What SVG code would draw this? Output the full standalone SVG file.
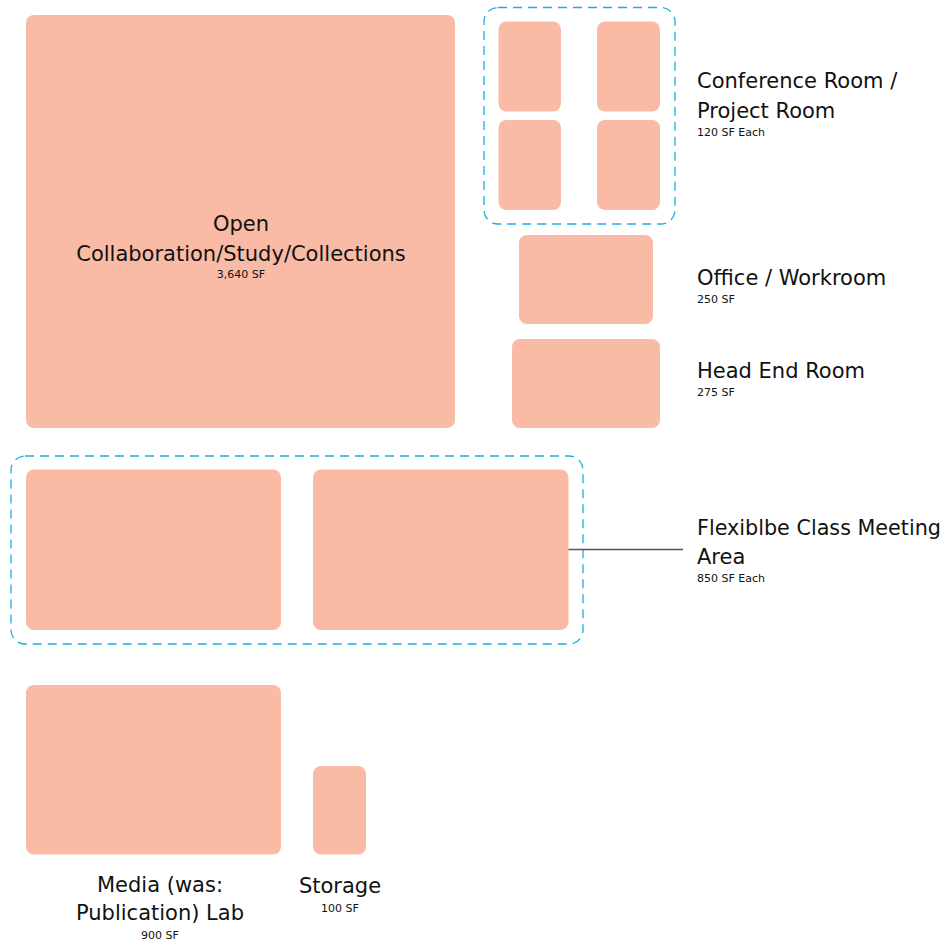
<svg xmlns="http://www.w3.org/2000/svg" width="946" height="944" viewBox="0 0 946 944">
<style>
.room{fill:#F9BBA5;}
.grp{fill:none;stroke:#1AAFE0;stroke-width:1.3;stroke-dasharray:9 6;}
.t{font-family:"DejaVu Sans","Liberation Sans",sans-serif;fill:#111;}
.big{font-size:21px;}
.small{font-size:11px;}
.mid{text-anchor:middle;}
.conn{stroke:#555;stroke-width:1.4;fill:none;}
</style>
<rect width="946" height="944" fill="#fff"/>
<g id="open">
<rect class="room" x="26" y="15" width="429" height="413" rx="8"/>
<text class="t big mid" x="241" y="231">Open</text>
<text class="t big mid" x="241" y="261">Collaboration/Study/Collections</text>
<text class="t small mid" x="241" y="278">3,640 SF</text>
</g>
<g id="conference">
<rect class="grp" x="484" y="7.5" width="191" height="216.5" rx="14"/>
<rect class="room" x="498.5" y="21.5" width="62.5" height="90" rx="8"/>
<rect class="room" x="597" y="21.5" width="63" height="90" rx="8"/>
<rect class="room" x="498.5" y="120" width="62.5" height="90" rx="8"/>
<rect class="room" x="597" y="120" width="63" height="90" rx="8"/>
<text class="t big" x="697" y="88">Conference Room /</text>
<text class="t big" x="697" y="118">Project Room</text>
<text class="t small" x="697" y="136">120 SF Each</text>
</g>
<g id="office">
<rect class="room" x="519" y="235" width="134" height="89" rx="8"/>
<text class="t big" x="697" y="285">Office / Workroom</text>
<text class="t small" x="697" y="303">250 SF</text>
</g>
<g id="headend">
<rect class="room" x="512" y="339" width="148" height="89" rx="8"/>
<text class="t big" x="697" y="378">Head End Room</text>
<text class="t small" x="697" y="396">275 SF</text>
</g>
<g id="flex">
<rect class="grp" x="11" y="456" width="572" height="188" rx="14"/>
<rect class="room" x="26" y="469.5" width="255" height="160.5" rx="8"/>
<rect class="room" x="313" y="469.5" width="255.5" height="160.5" rx="8"/>
<text class="t big" x="697" y="535" textLength="244" lengthAdjust="spacingAndGlyphs">Flexiblbe Class Meeting</text>
<text class="t big" x="697" y="564">Area</text>
<text class="t small" x="697" y="582">850 SF Each</text>
</g>
<g id="media">
<rect class="room" x="26" y="685" width="255" height="169.5" rx="8"/>
<text class="t big mid" x="160" y="892">Media (was:</text>
<text class="t big mid" x="160" y="920">Publication) Lab</text>
<text class="t small mid" x="160" y="939">900 SF</text>
</g>
<g id="storage">
<rect class="room" x="313" y="766" width="53" height="88.5" rx="8"/>
<text class="t big mid" x="340" y="893">Storage</text>
<text class="t small mid" x="340" y="912">100 SF</text>
</g>
<g id="connectors">
<line class="conn" x1="568.5" y1="549.5" x2="683" y2="549.5"/>
</g>
</svg>
